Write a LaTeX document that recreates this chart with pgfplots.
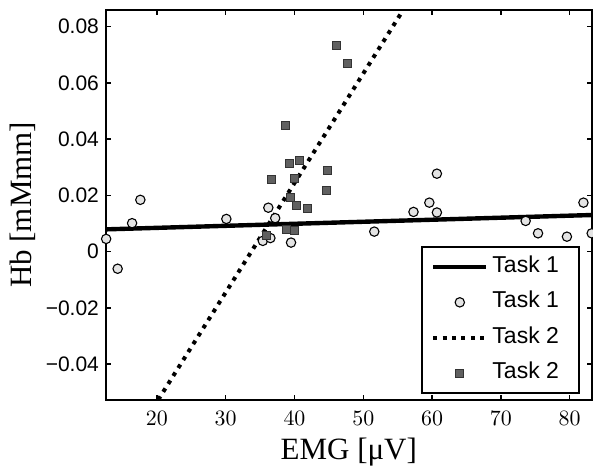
\documentclass[border=0pt]{standalone}
\usepackage{fontspec}
\setmainfont{Liberation Sans}
\newfontfamily\serif{Liberation Serif}
\usepackage{pgfplots}
\pgfplotsset{compat=1.18}

\definecolor{circfill}{HTML}{E4E4E4}
\definecolor{sqfill}{HTML}{606060}

\begin{document}
\begin{tikzpicture}
\begin{axis}[
  scale only axis,
  width=243pt, height=195pt,
  xmin=12.6, xmax=83.2,
  ymin=-0.0527, ymax=0.0859,
  clip=false,
  axis line style={line width=0.9pt},
  every tick/.style={black, line width=0.7pt},
  tick align=inside,
  major tick length=2.5pt,
  xtick={20,30,40,50,60,70,80},
  ytick={-0.04,-0.02,0,0.02,0.04,0.06,0.08},
  yticklabels={−0.04,−0.02,0,0.02,0.04,0.06,0.08},
  tick label style={font=\fontsize{10.5}{12}\selectfont},
  xticklabel style={yshift=-2.3pt},
  xlabel={EMG [μV]},
  ylabel={Hb [mMmm]},
  label style={font=\serif\fontsize{15.5}{18}\selectfont},
  xlabel style={at={(axis description cs:0.5,-0.1523)}, anchor=base},
  ylabel style={at={(axis description cs:-0.1523,0.5)}, anchor=base},
  legend image code/.code={%
    \draw[mark repeat=2,mark phase=2,#1] plot coordinates {(0pt,0pt) (13.25pt,0pt) (26.5pt,0pt)};},
  legend style={
    at={(rel axis cs:1,0)}, anchor=south east, xshift=-6pt, yshift=3pt,
    draw=black, line width=0.8pt, fill=white,
    font=\fontsize{11.5}{13}\selectfont,
    inner xsep=4.5pt, inner ysep=2.5pt, row sep=3.3pt,
    nodes={text height=8pt, text depth=2.5pt, inner ysep=2pt},
  },
  legend cell align=left,
]
% Task 1 fit
\addplot[black, line width=2.2pt] coordinates {(12.6,0.0079) (83.2,0.0130)};
\addlegendentry{Task 1\hspace*{3.5pt}}
% Task 1 samples
\addplot[only marks, mark=*, mark size=2.35pt,
  mark options={fill=circfill, draw=black, line width=0.55pt}] coordinates {
  (12.63,0.0045) (14.3,-0.0061) (16.4,0.0101) (17.6,0.0184) (30.1,0.0116)
  (36.2,0.0156) (37.2,0.0119) (35.4,0.0038) (36.5,0.0048) (39.5,0.0032)
  (51.6,0.0071) (57.3,0.0141) (59.6,0.0174) (60.7,0.0139) (60.7,0.0277)
  (73.6,0.0109) (75.4,0.0065) (79.6,0.0053) (82.0,0.0174) (83.2,0.0065)
};
\addlegendentry{Task 1\hspace*{3.5pt}}
% Task 2 fit
\addplot[black, line width=2pt, dash pattern=on 2pt off 2.7pt] coordinates {(20.2,-0.0527) (55.8,0.0859)};
\addlegendentry{Task 2\hspace*{3.5pt}}
% Task 2 samples
\addplot[only marks, mark=square*, mark size=2pt,
  mark options={fill=sqfill, draw=black!80, line width=0.5pt}] coordinates {
  (35.9,0.0058) (36.7,0.0255) (38.7,0.0450) (38.8,0.0077) (39.3,0.0314)
  (39.4,0.0193) (40.0,0.0261) (40.0,0.0074) (40.3,0.0165) (40.7,0.0323)
  (41.9,0.0153) (44.6,0.0217) (44.8,0.0289) (46.1,0.0732) (47.7,0.0667)
};
\addlegendentry{Task 2\hspace*{3.5pt}}
\end{axis}
\pgfresetboundingbox
\path ([shift={(-53pt,-34pt)}]current axis.south west) rectangle ([shift={(0.65pt,5pt)}]current axis.north east);
\end{tikzpicture}
\end{document}
